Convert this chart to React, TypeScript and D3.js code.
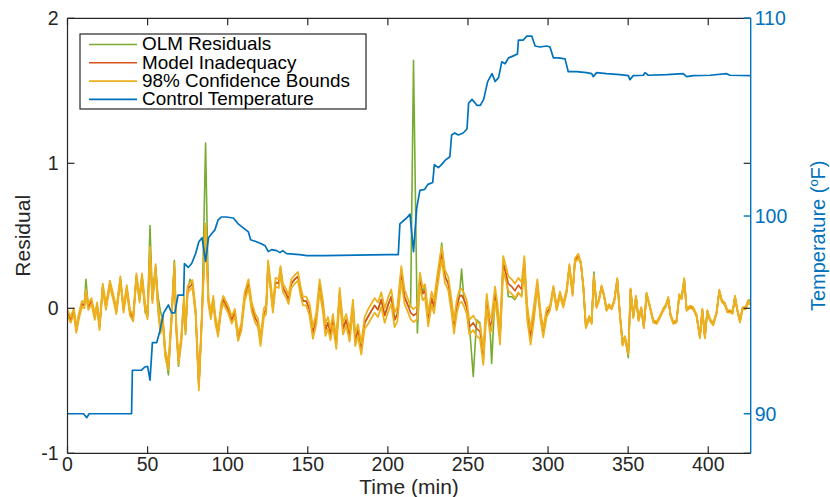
import React from "react";
import * as d3 from "d3";

// ---------- data ----------
const residualTime = [
  0, 2, 4, 5.5, 7, 9, 10.5, 11.5, 13, 15, 17, 18.5, 20, 22, 24, 26.5, 28.5, 30.5, 33, 35,
  37, 39, 41, 43, 45, 46.5, 48.5, 50, 51.5, 53, 55, 56.5, 58, 59.5, 61, 63, 65, 66.7, 68, 69.3,
  71, 72.7, 73.7, 75, 76.5, 78, 80, 82, 84, 86.2, 88, 89.5, 91, 92.3, 94, 96, 97.3, 99, 100.4, 102.5,
  104.5, 106.5, 108.5, 110.6, 113, 115, 117.2, 118.9, 120.5, 122.6, 124, 125.2, 126.6, 128.2, 129.9, 131.8, 133, 134.5, 136.6, 138,
  139.7, 141.8, 143.9, 145.5, 147, 149, 151.1, 153.2, 155.3, 157.4, 159.5, 161, 162.6, 164.2, 165.7, 167.8, 169.9, 172, 174, 176.1,
  178.2, 179.6, 181.3, 183.4, 185.5, 187.5, 189.6, 191.7, 193.8, 195.9, 198, 200, 202.1, 204.2, 205.9, 208.4, 210.4, 212.5, 214.2, 216,
  218.4, 220, 221.7, 223.2, 225.2, 227.3, 228.8, 230.4, 232.5, 233.6, 235.6, 237.7, 239.8, 241.3, 243, 244.6, 246, 247.5, 249.2, 250.8,
  253.3, 255.4, 257.5, 259.6, 261.7, 263.7, 264.8, 266.9, 268.3, 270, 272, 273.7, 275.2, 277.3, 279.3, 281.4, 283.5, 285.2, 287, 289.1,
  291.2, 293.3, 295.4, 297, 299.1, 301.2, 303.3, 305.4, 307.4, 309.5, 311.6, 313.3, 315.3, 316.8, 318.9, 320.5, 322, 323.6, 325.7, 327.2,
  328.6, 330.3, 331.8, 333.4, 334.9, 336.5, 338, 339.7, 341.3, 343.2, 344.9, 346.5, 348, 350.1, 351.5, 353.2, 354.9, 356.5, 358.2, 359.8,
  361.5, 363.6, 365.7, 367.8, 369.8, 371.9, 373.6, 375, 376.5, 378.2, 380.2, 381.9, 383.4, 385, 386.5, 388.6, 390.6, 392.7, 394.8, 396.3,
  397.9, 399.4, 401.1, 403.1, 405.2, 406.9, 408.5, 410.4, 411.9, 413.5, 415.2, 416.7, 418.1, 419.8, 421.4, 423.3, 425, 426,
];

const modelInadequacy = [
  -0.03, -0.08, -0.02, -0.15, -0.06, 0.03, 0.02, 0.11, 0.01, 0.05, -0.06, 0.02, -0.13, 0.15, 0.01, 0.17, 0.08, -0.02, 0.2, -0.01,
  0.14, -0.03, -0.07, 0.22, 0.06, 0.22, 0.01, -0.05, 0.4, 0.06, 0.28, 0.01, -0.15, -0.08, -0.31, -0.4, -0.06, 0.29, -0.15, -0.36,
  -0.22, 0.06, -0.15, 0.13, 0.15, 0.17, -0.03, -0.54, -0.03, 0.56, 0.05, -0.05, 0.06, -0.08, -0.17, 0.01, 0.06, 0.02, -0.01, -0.08,
  -0.03, -0.2, -0.13, 0.08, 0.17, 0.01, -0.07, -0.1, -0.23, -0.03, -0.01, 0.3, 0.17, 0.0, 0.18, 0.17, 0.26, 0.14, 0.1, 0.06,
  0.17, 0.2, 0.22, 0.12, 0.05, 0.05, -0.01, -0.17, -0.07, 0.16, 0.01, -0.15, -0.1, -0.18, -0.08, -0.24, 0.1, -0.14, -0.08, -0.19,
  0.02, -0.22, -0.15, -0.28, -0.1, -0.06, -0.02, 0.02, -0.01, 0.06, -0.05, 0.02, 0.08, -0.08, -0.04, 0.24, 0.08, 0.02, -0.03, -0.05,
  -0.03, 0.2, 0.1, 0.12, -0.08, 0.07, 0.01, 0.15, 0.31, 0.38, 0.22, 0.17, 0.01, -0.13, 0.01, 0.08, 0.09, 0.06, 0.01, -0.13,
  -0.1, -0.14, -0.16, -0.34, 0.05, -0.12, -0.1, 0.1, -0.01, -0.2, 0.31, 0.24, 0.17, 0.15, 0.12, 0.16, 0.13, 0.31, -0.03, -0.2,
  -0.03, 0.17, -0.06, -0.17, -0.03, 0.0, 0.14, 0.0, 0.1, 0.02, 0.12, 0.29, 0.1, 0.33, 0.36, 0.31, 0.15, -0.13, -0.06, -0.1,
  0.22, 0.01, 0.06, 0.15, 0.09, -0.01, 0.02, 0.0, 0.05, 0.2, -0.05, -0.25, -0.2, -0.31, 0.13, -0.06, 0.08, -0.08, 0.0, -0.13,
  0.1, 0.01, -0.09, -0.1, -0.06, -0.01, 0.02, 0.07, -0.05, -0.1, -0.09, 0.09, 0.07, 0.2, -0.01, 0.01, 0.0, -0.05, -0.2, -0.01,
  -0.2, -0.02, -0.08, -0.11, -0.03, 0.12, 0.05, 0.03, -0.02, -0.02, -0.03, 0.08, -0.01, -0.09, 0.0, 0.0, 0.05, 0.03,
];

// OLM residuals where they depart from the model-inadequacy curve
const olmTimes = [
  11.5, 48.5, 51.5, 56.5, 58, 63, 66.7, 69.3, 73.7, 76.5, 86.2, 106.5, 125.2, 133, 208.4, 214.2, 216, 218.4,
  223.2, 233.6, 246, 250.8, 253.3, 255.4, 257.5, 264.8, 275.2, 277.3, 279.3, 281.4, 283.5, 325.7, 328.6, 346.5, 350.1, 426,
];
const olmValues = [
  0.2, -0.03, 0.57, 0.08, -0.02, -0.46, 0.33, -0.4, -0.18, 0.2, 1.14, -0.22, 0.32, 0.28, 0.27, 0.01, 1.71, -0.17,
  0.16, 0.45, 0.27, -0.1, -0.47, -0.08, -0.1, -0.38, 0.08, 0.08, 0.06, 0.1, 0.09, -0.08, 0.25, -0.22, -0.34, 0.06,
];

// half-width of the 98% confidence band, by time segment
const bandBreaks = [0, 50, 110, 150, 186, 212, 250, 292, 300, 320, 427];
const bandHalfWidth = [0.02, 0.025, 0.03, 0.04, 0.05, 0.045, 0.05, 0.03, 0.015, 0.008];

const tempTime = [
  0, 10, 12, 13.5, 40, 40.5, 46, 48, 50, 51.5, 53, 55.7, 57.7, 60, 63, 65, 67, 69, 72.5, 73,
  75.4, 77.5, 80, 82, 84, 86.2, 88, 90, 92, 94, 96, 99, 103.5, 106.6, 109.7, 112.9, 114.3, 118, 121, 123.3,
  125.4, 127.4, 130.6, 132.6, 134.3, 136.8, 145, 149.3, 160, 180, 200, 206.5, 207.5, 211.7, 213.8, 216, 218, 220, 223, 225,
  228, 229, 231.5, 233.5, 235.5, 238.7, 239.8, 241.8, 244, 247, 249.4, 250.4, 252.5, 255.6, 257.7, 259.8, 262.3, 265, 267, 269.1,
  271.1, 273.2, 275.3, 278.4, 280.9, 281.5, 284.6, 286.7, 289.8, 291.9, 295, 299.2, 301.2, 303.3, 306.4, 310.6, 312.6, 317.8, 324, 327.2,
  328.2, 330.3, 336.5, 344.9, 350.1, 351.1, 353.2, 359.5, 360.5, 362.6, 374, 384.4, 386.5, 390.7, 401.1, 411.5, 413.5, 426.5,
];
const controlTemperature = [
  90.0, 90.0, 89.8, 90.0, 90.0, 92.2, 92.2, 92.35, 92.4, 91.7, 93.6, 93.6, 94.2, 95.1, 95.5, 95.1, 95.1, 96.0, 96.0, 97.6,
  97.4, 97.6, 98.1, 98.7, 98.9, 97.7, 98.9, 99.1, 99.3, 99.8, 99.95, 99.95, 99.9, 99.6, 99.4, 99.2, 98.8, 98.7, 98.6, 98.5,
  98.2, 98.3, 98.25, 98.15, 98.25, 98.1, 98.05, 98.0, 98.0, 98.02, 98.05, 98.05, 99.6, 99.9, 100.1, 98.2, 100.4, 101.3, 101.35, 101.6,
  101.7, 102.6, 102.45, 102.6, 102.8, 103.0, 104.1, 104.2, 104.1, 104.2, 104.4, 105.7, 105.9, 105.6, 105.6, 105.9, 106.8, 107.2, 106.8, 107.0,
  107.8, 107.7, 108.0, 108.1, 108.2, 108.9, 108.9, 109.1, 109.1, 108.6, 108.55, 108.6, 108.55, 108.0, 108.0, 107.95, 107.3, 107.3, 107.25, 107.2,
  107.05, 107.25, 107.2, 107.15, 107.1, 106.9, 107.1, 107.12, 107.25, 107.12, 107.15, 107.2, 107.05, 107.1, 107.12, 107.2, 107.12, 107.1,
];

const xTicks = [0, 50, 100, 150, 200, 250, 300, 350, 400];
const leftTicks = [-1, 0, 1, 2];
const rightTicks = [90, 100, 110];

const legendLabels = ["OLM Residuals", "Model Inadequacy", "98% Confidence Bounds", "Control Temperature"];

// ---------- styling ----------
const W = 830;
const H = 497;
const C = { green: "#77AC30", orange: "#D95319", yellow: "#EDB120", blue: "#0072BD", axis: "#262626" };
const FONT = "'Liberation Sans', Arial, Helvetica, sans-serif";

export default function App() {
  const left = 67.5, right = 750.7, top = 18.3, bottom = 453.3;
  const x = d3.scaleLinear().domain([0, 426.5]).range([left, right]);
  const yL = d3.scaleLinear().domain([-1, 2]).range([bottom, top]);
  const yR = d3.scaleLinear().domain([88, 110]).range([bottom, top]);

  const hwAt = (t: number) => {
    const i = Math.max(0, d3.bisectRight(bandBreaks, t) - 1);
    return bandHalfWidth[Math.min(i, bandHalfWidth.length - 1)];
  };

  const model = residualTime.map((t, i) => [t, modelInadequacy[i]] as [number, number]);
  const olmMap = new Map(olmTimes.map((t, i) => [t, olmValues[i]]));
  const olm = residualTime.map((t, i) => [t, olmMap.has(t) ? (olmMap.get(t) as number) : modelInadequacy[i]] as [number, number]);
  const upper = model.map(([t, v]) => [t, v + hwAt(t)] as [number, number]);
  const lower = model.map(([t, v]) => [t, v - hwAt(t)] as [number, number]);
  const temp = tempTime.map((t, i) => [t, controlTemperature[i]] as [number, number]);

  const lineL = d3.line<[number, number]>().x((d) => x(d[0])).y((d) => yL(d[1]));
  const lineR = d3.line<[number, number]>().x((d) => x(d[0])).y((d) => yR(d[1]));

  const tickLen = 7;
  const fs = 19.5;
  const legendColors = [C.green, C.orange, C.yellow, C.blue];

  return (
    <svg
      width={W}
      height={H}
      viewBox={`0 0 ${W} ${H}`}
      style={{ position: "absolute", left: 0, top: 0, background: "#fff" }}
      fontFamily={FONT}
    >
      <defs>
        <clipPath id="plot">
          <rect x={left} y={top} width={right - left} height={bottom - top} />
        </clipPath>
      </defs>
      <rect x={0} y={0} width={W} height={H} fill="#fff" />

      <g clipPath="url(#plot)" fill="none" strokeLinejoin="round">
        <path d={lineL(olm) || ""} stroke={C.green} strokeWidth={1.6} />
        <path d={lineL(model) || ""} stroke={C.orange} strokeWidth={1.6} />
        <path d={lineL(upper) || ""} stroke={C.yellow} strokeWidth={1.8} />
        <path d={lineL(lower) || ""} stroke={C.yellow} strokeWidth={1.8} />
        <path d={lineR(temp) || ""} stroke={C.blue} strokeWidth={1.7} />
      </g>

      {/* box / left axes */}
      <g stroke={C.axis} strokeWidth={1.2} fill="none">
        <line x1={left} y1={top} x2={left} y2={bottom} />
        <line x1={left} y1={bottom} x2={right} y2={bottom} />
        <line x1={left} y1={top} x2={right} y2={top} />
        {xTicks.map((t) => (
          <g key={"xt" + t}>
            <line x1={x(t)} y1={bottom} x2={x(t)} y2={bottom - tickLen} />
            <line x1={x(t)} y1={top} x2={x(t)} y2={top + tickLen} />
          </g>
        ))}
        {leftTicks.map((v) => (
          <g key={"yl" + v}>
            <line x1={left} y1={yL(v)} x2={left + tickLen} y2={yL(v)} />
            <line x1={right} y1={yL(v)} x2={right - tickLen} y2={yL(v)} />
          </g>
        ))}
      </g>

      {/* right axis */}
      <g stroke={C.blue} strokeWidth={1.4}>
        <line x1={right} y1={top} x2={right} y2={bottom} />
        {rightTicks.map((v) => (
          <line key={"yr" + v} x1={right} y1={yR(v)} x2={right - tickLen} y2={yR(v)} />
        ))}
      </g>

      {/* tick labels */}
      <g fontSize={fs} fill={C.axis}>
        {xTicks.map((t) => (
          <text key={"xl" + t} x={x(t)} y={bottom + 18} textAnchor="middle">
            {t}
          </text>
        ))}
        {leftTicks.map((v) => (
          <text key={"ll" + v} x={left - 9} y={yL(v)} textAnchor="end" dominantBaseline="central">
            {v}
          </text>
        ))}
      </g>
      <g fontSize={fs} fill={C.blue}>
        {rightTicks.map((v) => (
          <text key={"rl" + v} x={right + 4} y={yR(v)} textAnchor="start" dominantBaseline="central">
            {v}
          </text>
        ))}
      </g>

      {/* axis labels */}
      <text x={(left + right) / 2} y={494} textAnchor="middle" fontSize={21} fill={C.axis}>
        Time (min)
      </text>
      <text
        transform={`translate(30,${(top + bottom) / 2}) rotate(-90)`}
        textAnchor="middle"
        fontSize={21}
        fill={C.axis}
      >
        Residual
      </text>
      <text
        transform={`translate(825,${(top + bottom) / 2}) rotate(-90)`}
        textAnchor="middle"
        fontSize={20}
        fill={C.blue}
      >
        Temperature (<tspan dy={-7} fontSize={13}>o</tspan>
        <tspan dy={7}>F)</tspan>
      </text>

      {/* legend */}
      <g>
        <rect x={80} y={34} width={286} height={75} fill="#fff" stroke={C.axis} strokeWidth={1.2} />
        {legendLabels.map((lab, i) => {
          const yy = 44.5 + i * 18.3;
          return (
            <g key={lab}>
              <line x1={89} y1={yy} x2={137} y2={yy} stroke={legendColors[i]} strokeWidth={1.6} />
              <text
                transform={`translate(142,${yy}) scale(1.08,1)`}
                dominantBaseline="central"
                fontSize={17.5}
                fill="#000"
              >
                {lab}
              </text>
            </g>
          );
        })}
      </g>
    </svg>
  );
}
